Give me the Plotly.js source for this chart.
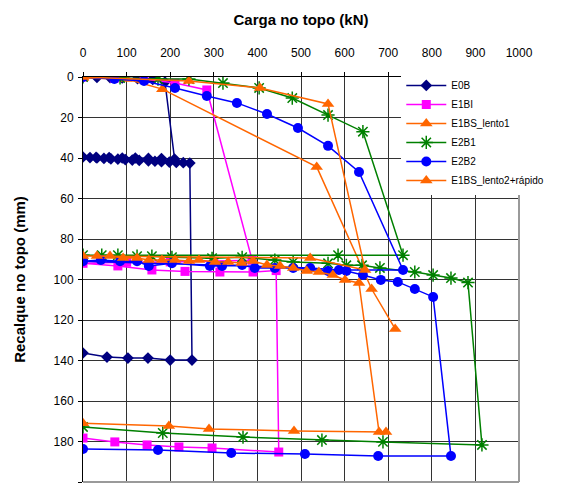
<!DOCTYPE html>
<html>
<head>
<meta charset="utf-8">
<script src="https://cdn.plot.ly/plotly-3.0.1.min.js"></script>
<style>html,body{margin:0;padding:0;background:#fff;}#chart{width:561px;height:488px;}</style>
</head>
<body>
<div id="chart"></div>
<script>
// Carga no topo (kN) vs Recalque no topo (mm)
const E0B_load   = [0,32,62,90,125,160,188,210,180,150,120,90,60,30,0,16,32,48,64,80,97,113,129,150,165,180,198,214,230,245,250,200,149,103,55,0];
const E0B_settle = [0,0.2,0.3,0.5,0.8,1.2,2.5,40.5,40.3,40.2,40,40,39.8,39.7,39.5,39.8,40,40.2,40.4,40.6,40.8,41,41.2,41.4,41.6,41.8,42,42.2,42.3,42.5,139.8,139.8,138.8,138.8,138.3,136.3];

const E1BI_load   = [0,72,140,211,284,388,300,200,100,0,80,158,234,314,390,443,449,296,220,147,73,0];
const E1BI_settle = [0,0.5,1,3,6.4,90.5,91,91.3,91.5,92,93.3,95.3,96,96.3,96.3,95.6,185.2,183.2,182.7,181.7,180.2,178.3];

const L1_load   = [0,100,182,536,662,716];
const L1_settle = [0.5,1,6,44.4,104.7,124.4];

const E2B1_load   = [0,85,172,243,321,404,480,562,642,734,585,0,43,80,124,158,204,296,365,440,482,562,604,640,681,761,803,844,883,915,688,548,367,183,0];
const E2B1_settle = [0,0.5,1,1,3,5.4,10.4,18.8,27,88,88,88,88,88,88.5,88.5,89,89.5,89,90.4,91.4,92,93,93,94.3,96.3,97.8,99.3,101.5,181.7,180.2,179.3,177.8,175.8,172.8];

const E2B2_load   = [0,72,140,211,284,353,422,493,562,633,734,587,521,0,41,85,124,151,204,291,319,365,394,440,482,562,604,642,683,722,761,803,844,677,509,340,172,0];
const E2B2_settle = [0,1,2,5.4,9.4,12.8,18.3,25.2,34,46.9,95.3,95.3,94.3,91,90.4,91,91,93.3,92,93.3,93.3,92.8,94.3,94.3,94.3,95.8,95.8,97.8,100.2,101.2,104.7,108.6,187.2,187.2,186.2,185.7,184.2,183.7];

const L2_load   = [0,243,406,562,647,521,0,32,62,92,124,151,181,211,243,266,303,333,364,390,422,452,482,513,541,573,601,633,679,695,484,289,197,0];
const L2_settle = [0,2,5.4,13.3,95.3,89.4,88.4,88.4,88.4,89.4,89.4,90.4,90.4,90.4,90.9,90.4,91.4,91.4,91.8,90.9,92.8,93.3,94.3,95.8,96.3,97.8,100.2,101.7,175.3,175.3,174.8,173.8,172.3,171];

const names = ['E0B','E1BI','E1BS_lento1','E2B1','E2B2','E1BS_lento2+rápido'];

function tr(name, x, y, color, symbol, size, extra) {
  const t = {
    type: 'scatter', mode: 'lines+markers', name: name, x: x, y: y,
    line: {color: color, width: 1.5},
    marker: {color: color, symbol: symbol, size: size, line: {width: 0, color: color}},
    cliponaxis: true
  };
  if (extra) Object.assign(t.marker, extra);
  return t;
}

const data = [
  tr(names[0], E0B_load, E0B_settle, '#000080', 'diamond', 9),
  tr(names[1], E1BI_load, E1BI_settle, '#FF00FF', 'square', 9),
  tr(names[2], L1_load, L1_settle, '#FF6600', 'triangle-up', 11),
  tr(names[3], E2B1_load, E2B1_settle, '#008000', 'asterisk-open', 11, {line: {width: 1.5, color: '#008000'}}),
  tr(names[4], E2B2_load, E2B2_settle, '#0000FF', 'circle', 10),
  tr(names[5], L2_load, L2_settle, '#FF6600', 'triangle-up', 11)
];

const gridc = '#333333';
const layout = {
  width: 561, height: 488,
  margin: {l: 83, r: 42, t: 77, b: 6, autoexpand: false},
  paper_bgcolor: '#ffffff', plot_bgcolor: '#ffffff',
  font: {family: 'Liberation Sans, Arial, sans-serif', size: 12, color: '#000'},
  showlegend: true,
  legend: {
    x: 0.73, y: 1.015, xanchor: 'left', yanchor: 'top',
    bgcolor: '#ffffff', borderwidth: 0,
    font: {family: 'Liberation Sans, Arial, sans-serif', size: 10, color: '#000'},
    itemwidth: 40, tracegroupgap: 0
  },
  xaxis: {
    side: 'top', range: [0, 1000], dtick: 100, tick0: 0,
    showgrid: true, gridcolor: gridc, gridwidth: 1,
    zeroline: false, showline: true, linecolor: '#000', linewidth: 1,
    ticks: 'outside', ticklen: 4, tickcolor: '#000',
    tickfont: {size: 12}, ticklabelstandoff: 10,
    title: {text: '<b>Carga no topo (kN)</b>', font: {size: 15}, standoff: 16},
    fixedrange: true
  },
  yaxis: {
    range: [200, 0], dtick: 20, tick0: 0,
    showgrid: true, gridcolor: gridc, gridwidth: 1,
    zeroline: false, showline: true, linecolor: '#000', linewidth: 1,
    ticks: 'outside', ticklen: 4, tickcolor: '#000',
    tickfont: {size: 12}, ticklabelstandoff: 2,
    title: {text: '<b>Recalque no topo (mm)</b>', font: {size: 15}, standoff: 24},
    fixedrange: true
  },
  shapes: [
    {type: 'line', xref: 'paper', yref: 'paper', x0: 1, x1: 1, y0: 0, y1: 1, line: {color: '#9a9a9a', width: 2}},
    {type: 'line', xref: 'paper', yref: 'paper', x0: 0, x1: 1, y0: 0, y1: 0, line: {color: '#9a9a9a', width: 2}}
  ]
};

Plotly.newPlot('chart', data, layout, {displayModeBar: false, staticPlot: true});
</script>
</body>
</html>
